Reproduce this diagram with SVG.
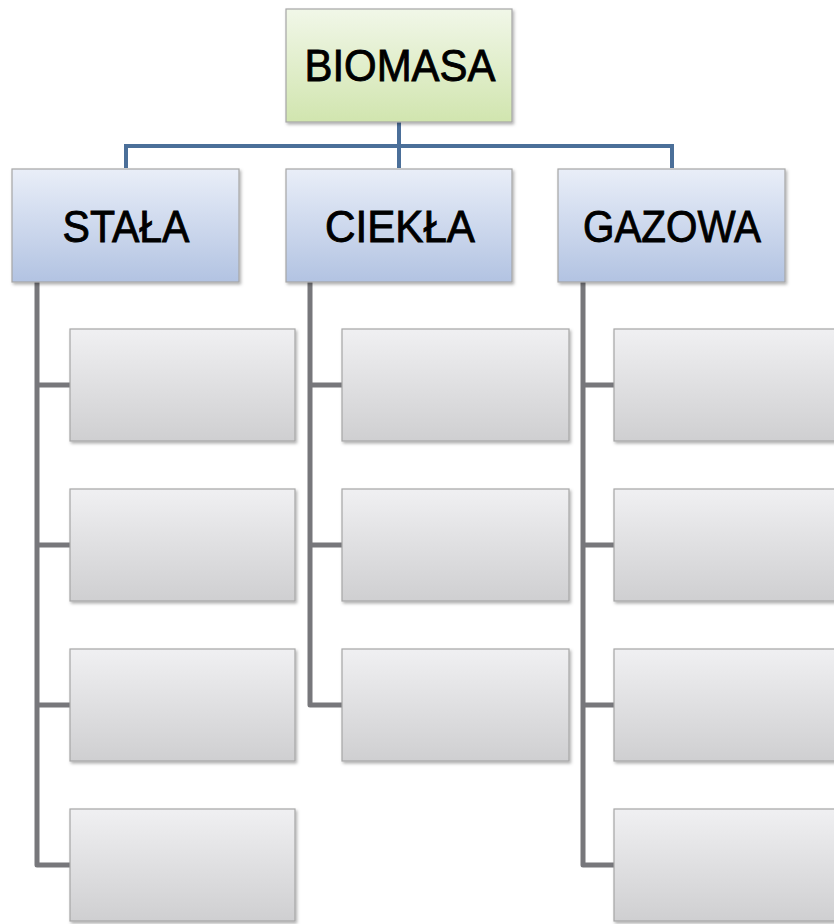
<svg xmlns="http://www.w3.org/2000/svg" width="834" height="924" viewBox="0 0 834 924">
<defs>
<linearGradient id="gGreen" x1="0" y1="0" x2="0" y2="1"><stop offset="0" stop-color="#f1f7e8"/><stop offset="1" stop-color="#d1e5af"/></linearGradient>
<linearGradient id="gBlue" x1="0" y1="0" x2="0" y2="1"><stop offset="0" stop-color="#e9eef8"/><stop offset="1" stop-color="#b2c3e2"/></linearGradient>
<linearGradient id="gGray" x1="0" y1="0" x2="0" y2="1"><stop offset="0" stop-color="#f0f0f2"/><stop offset="1" stop-color="#cfcfd1"/></linearGradient>
<filter id="sh" x="-5%" y="-5%" width="115%" height="120%"><feDropShadow dx="1.5" dy="2" stdDeviation="1.5" flood-color="#000" flood-opacity="0.3"/></filter>
</defs>
<style>
.box{stroke:#a6a6a6;stroke-width:1.2;filter:url(#sh)}
.g{fill:url(#gGreen)}.b{fill:url(#gBlue)}.y{fill:url(#gGray)}
.t{font-family:"Liberation Sans",Arial,sans-serif;font-size:45px;fill:#000;stroke:#000;stroke-width:0.9;text-anchor:middle}
.cb{stroke:#4b6f99;stroke-width:4;fill:none}
.cg{stroke:#77777b;stroke-width:5;fill:none;stroke-linejoin:round}
</style>
<rect width="834" height="924" fill="#fff"/>
<g id="connectors">
<path class="cb" d="M399 122 V168 M126 168 V146 H672 V168"/>
<path class="cg" d="M37 282 V865 H70 M37 385 H70 M37 545 H70 M37 705 H70"/>
<path class="cg" d="M310 282 V705 H342 M310 385 H342 M310 545 H342"/>
<path class="cg" d="M583 282 V865 H614 M583 385 H614 M583 545 H614 M583 705 H614"/>
</g>
<g id="biomasa"><rect class="box g" x="286" y="9" width="226" height="113"/><text class="t" x="400" y="81" textLength="191" lengthAdjust="spacingAndGlyphs">BIOMASA</text></g>
<g id="stala"><rect class="box b" x="12" y="169" width="227" height="113"/><text class="t" x="126" y="242" textLength="127" lengthAdjust="spacingAndGlyphs">STAŁA</text></g>
<g id="ciekla"><rect class="box b" x="286" y="169" width="226" height="113"/><text class="t" x="400" y="242" textLength="150" lengthAdjust="spacingAndGlyphs">CIEKŁA</text></g>
<g id="gazowa"><rect class="box b" x="558" y="169" width="227" height="113"/><text class="t" x="672" y="242" textLength="178" lengthAdjust="spacingAndGlyphs">GAZOWA</text></g>
<g id="s1"><rect class="box y" x="70" y="329" width="225" height="112"/></g>
<g id="s2"><rect class="box y" x="70" y="489" width="225" height="112"/></g>
<g id="s3"><rect class="box y" x="70" y="649" width="225" height="112"/></g>
<g id="s4"><rect class="box y" x="70" y="809" width="225" height="112"/></g>
<g id="c1"><rect class="box y" x="342" y="329" width="227" height="112"/></g>
<g id="c2"><rect class="box y" x="342" y="489" width="227" height="112"/></g>
<g id="c3"><rect class="box y" x="342" y="649" width="227" height="112"/></g>
<g id="g1"><rect class="box y" x="614" y="329" width="227" height="112"/></g>
<g id="g2"><rect class="box y" x="614" y="489" width="227" height="112"/></g>
<g id="g3"><rect class="box y" x="614" y="649" width="227" height="112"/></g>
<g id="g4"><rect class="box y" x="614" y="809" width="227" height="112"/></g>
</svg>
